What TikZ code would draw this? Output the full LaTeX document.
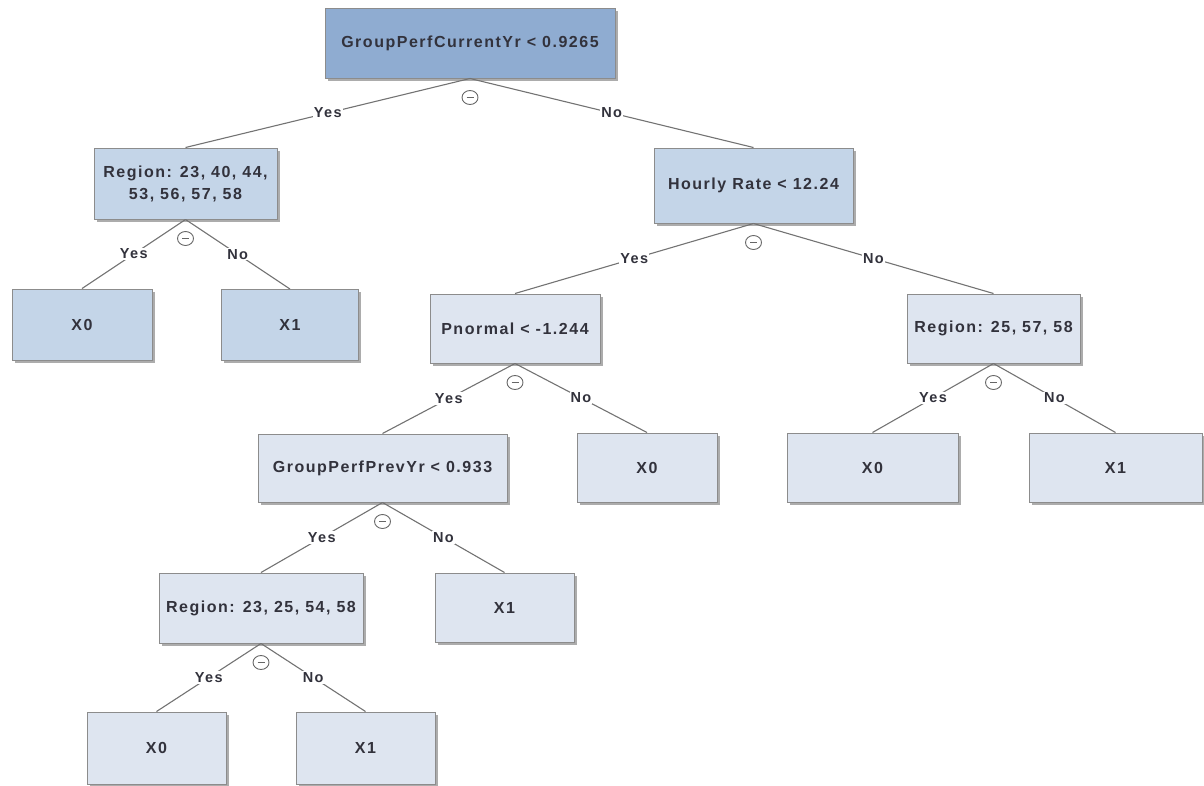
\documentclass[tikz,border=0pt]{standalone}
\usepackage{fontspec}
\setmainfont{Liberation Sans}[LetterSpace=9.5]
\usepackage{tikz}
\usetikzlibrary{
    shadows,
    shapes.geometric
}

\definecolor{rootblue}{RGB}{143,172,209}
\definecolor{midblue}{RGB}{196,213,232}
\definecolor{paleblue}{RGB}{222,229,240}
\definecolor{boxline}{RGB}{140,140,140}
\definecolor{txtgray}{RGB}{50,50,60}

\begin{document}
\begin{tikzpicture}[x=1pt,y=1pt,text=txtgray,font=\fontsize{16}{22}\selectfont\bfseries]
    \tikzstyle{splitbox}=[rectangle, draw=boxline, line width=1pt, align=center, inner sep=2pt,
        drop shadow={shadow xshift=2.5pt, shadow yshift=-2.5pt, fill=black!50, opacity=0.65}]
    \tikzstyle{condroot}=[splitbox, fill=rootblue]
    \tikzstyle{condmid}=[splitbox, fill=midblue]
    \tikzstyle{condlow}=[splitbox, fill=paleblue]
    \tikzstyle{branch}=[draw=black!55, line width=1.1pt]
    \tikzstyle{ans}=[fill=white, inner sep=1pt, font=\fontsize{14.5}{17}\selectfont\bfseries]
    \tikzstyle{fold}=[ellipse, draw=black!60, line width=0.9pt, minimum width=16pt, minimum height=14pt, inner sep=0pt,
        path picture={\draw [line width=0.9pt] ([xshift=-3.5pt]path picture bounding box.center) -- ([xshift=3.5pt]path picture bounding box.center);}]

    \useasboundingbox (0,0) rectangle (1204,-785);

    % level 0 and 1
    \node [condroot, minimum width=290pt, minimum height=70pt] (root) at (470,-43) {GroupPerfCurrentYr < 0.9265};
    \node [condmid, minimum width=183pt, minimum height=71pt] (regA) at (185.5,-183.5) {Region: 23, 40, 44,\\ 53, 56, 57, 58};
    \node [condmid, minimum width=199pt, minimum height=75pt] (rate) at (753.5,-185.5) {Hourly Rate < 12.24};

    % level 2
    \node [condmid, minimum width=140pt, minimum height=71pt] (leafA0) at (82,-324.5) {X0};
    \node [condmid, minimum width=137pt, minimum height=71pt] (leafA1) at (290,-325) {X1};
    \node [condlow, minimum width=170pt, minimum height=69pt] (pnorm) at (515,-328.5) {Pnormal < -1.244};
    \node [condlow, minimum width=173pt, minimum height=69pt] (regB) at (993.5,-328.5) {Region: 25, 57, 58};

    % level 3
    \node [condlow, minimum width=249pt, minimum height=68pt] (prev) at (382.5,-468) {GroupPerfPrevYr < 0.933};
    \node [condlow, minimum width=140pt, minimum height=69pt] (leafP0) at (647,-467.5) {X0};
    \node [condlow, minimum width=171pt, minimum height=69pt] (leafB0) at (872.5,-467.5) {X0};
    \node [condlow, minimum width=173pt, minimum height=69pt] (leafB1) at (1115.5,-467.5) {X1};

    % level 4 and 5
    \node [condlow, minimum width=204pt, minimum height=70pt] (regC) at (261,-608) {Region: 23, 25, 54, 58};
    \node [condlow, minimum width=139pt, minimum height=69pt] (leafV1) at (504.5,-607.5) {X1};
    \node [condlow, minimum width=139pt, minimum height=72pt] (leafC0) at (156.5,-748) {X0};
    \node [condlow, minimum width=139pt, minimum height=72pt] (leafC1) at (365.5,-748) {X1};

    \draw [branch] (root.south) -- node [ans] {Yes} (regA.north);
    \draw [branch] (root.south) -- node [ans] {No} (rate.north);
    \draw [branch] (regA.south) -- node [ans] {Yes} (leafA0.north);
    \draw [branch] (regA.south) -- node [ans] {No} (leafA1.north);
    \draw [branch] (rate.south) -- node [ans] {Yes} (pnorm.north);
    \draw [branch] (rate.south) -- node [ans] {No} (regB.north);
    \draw [branch] (pnorm.south) -- node [ans] {Yes} (prev.north);
    \draw [branch] (pnorm.south) -- node [ans] {No} (leafP0.north);
    \draw [branch] (regB.south) -- node [ans] {Yes} (leafB0.north);
    \draw [branch] (regB.south) -- node [ans] {No} (leafB1.north);
    \draw [branch] (prev.south) -- node [ans] {Yes} (regC.north);
    \draw [branch] (prev.south) -- node [ans] {No} (leafV1.north);
    \draw [branch] (regC.south) -- node [ans] {Yes} (leafC0.north);
    \draw [branch] (regC.south) -- node [ans] {No} (leafC1.north);

    \node [fold] (f0) at ([yshift=-19pt]root.south) {};
    \node [fold] (f1) at ([yshift=-19pt]regA.south) {};
    \node [fold] (f2) at ([yshift=-19pt]rate.south) {};
    \node [fold] (f3) at ([yshift=-19pt]pnorm.south) {};
    \node [fold] (f4) at ([yshift=-19pt]regB.south) {};
    \node [fold] (f5) at ([yshift=-19pt]prev.south) {};
    \node [fold] (f6) at ([yshift=-19pt]regC.south) {};
\end{tikzpicture}
\end{document}
